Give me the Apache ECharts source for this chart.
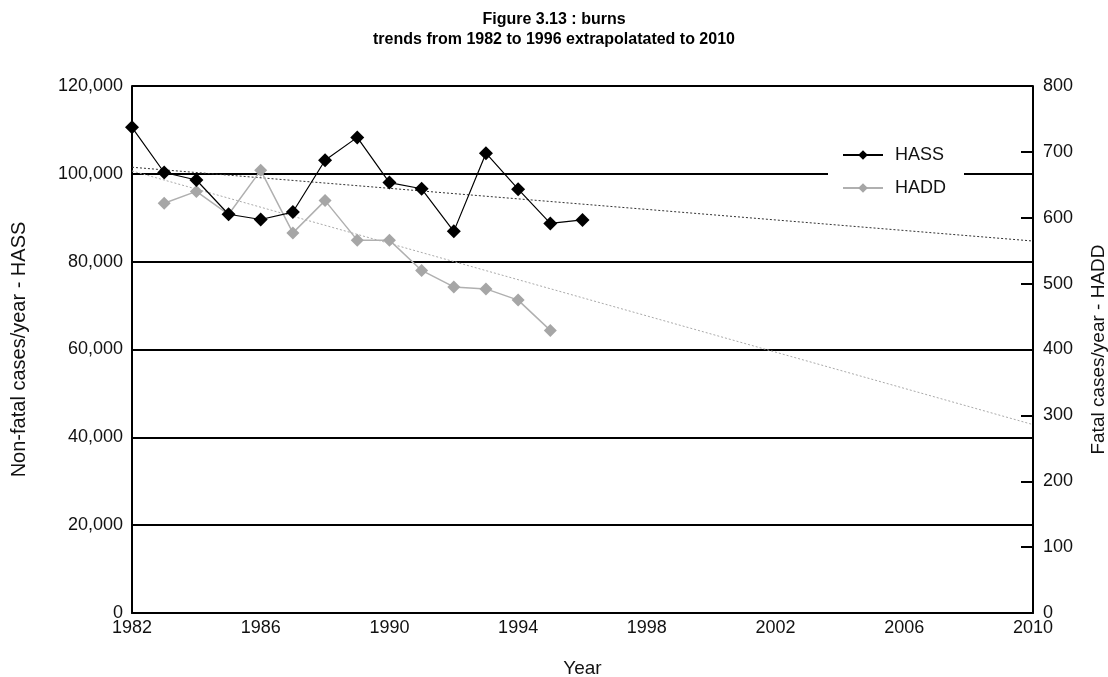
<!DOCTYPE html>
<html>
<head>
<meta charset="utf-8">
<script src="https://cdn.jsdelivr.net/npm/echarts@6/dist/echarts.min.js"></script>
<style>html,body{margin:0;padding:0;background:#fff}#c{width:1108px;height:677px}</style>
</head>
<body>
<div id="c"></div>
<script>
var years = [];
for (var y = 1982; y <= 2010; y++) years.push(String(y));
var hassYears = [1982,1983,1984,1985,1986,1987,1988,1989,1990,1991,1992,1993,1994,1995,1996];
var hassValues = [110600,100300,98600,90800,89600,91300,103100,108300,98000,96600,86900,104700,96500,88700,89500];
var haddYears = [1983,1984,1985,1986,1987,1988,1989,1990,1991,1992,1993,1994,1995];
var haddValues = [622,640,605,672,577,626,566,566,520,495,492,475,429];
var hassTrend = {start: 101500, end: 84700};
var haddTrend = {start: 671, end: 286};
var titleText = 'Figure 3.13 : burns\ntrends from 1982 to 1996 extrapolatated to 2010';

function toSeries(ys, vs) {
  var out = years.map(function(){ return null; });
  ys.forEach(function(yr, i){ out[years.indexOf(String(yr))] = vs[i]; });
  return out;
}
function trend(t) {
  var out = years.map(function(){ return null; });
  out[0] = t.start; out[out.length - 1] = t.end;
  return out;
}
var font = 'Liberation Sans, Arial, Helvetica, sans-serif';
var chart = echarts.init(document.getElementById('c'), null, {renderer: 'canvas'});
chart.setOption({
  animation: false,
  backgroundColor: '#fff',
  title: {
    text: titleText, left: 'center', top: 5,
    textStyle: {fontFamily: font, fontSize: 16, fontWeight: 'bold', color: '#000', lineHeight: 20}
  },
  grid: {left: 132, right: 75, top: 86, bottom: 64, containLabel: false, outerBoundsMode: 'none'},
  legend: {
    data: ['HASS', 'HADD'], orient: 'vertical', left: 828, top: 140,
    backgroundColor: '#fff', padding: [6, 18, 6, 14], itemGap: 15,
    itemWidth: 40, itemHeight: 12,
    textStyle: {fontFamily: font, fontSize: 18, color: '#111', padding: [0, 0, 0, 7]}
  },
  xAxis: {
    type: 'category', data: years, boundaryGap: false,
    name: 'Year', nameLocation: 'middle', nameGap: 46,
    nameTextStyle: {fontFamily: font, fontSize: 19, color: '#111'},
    axisLine: {lineStyle: {color: '#000', width: 2}},
    axisTick: {show: false},
    axisLabel: {interval: 3, fontFamily: font, fontSize: 18, color: '#111', margin: 6},
    splitLine: {show: false}
  },
  yAxis: [{
    type: 'value', min: 0, max: 120000, interval: 20000,
    name: 'Non-fatal cases/year - HASS', nameLocation: 'middle', nameGap: 103,
    nameTextStyle: {fontFamily: font, fontSize: 20, color: '#111'},
    axisLine: {show: true, lineStyle: {color: '#000', width: 2}},
    axisTick: {show: false},
    axisLabel: {fontFamily: font, fontSize: 18, color: '#111', margin: 9},
    splitLine: {show: true, lineStyle: {color: '#000', width: 2}}
  }, {
    type: 'value', min: 0, max: 800, interval: 100, position: 'right',
    name: 'Fatal cases/year - HADD', nameLocation: 'middle', nameGap: 56,
    nameTextStyle: {fontFamily: font, fontSize: 19, color: '#111'},
    axisLine: {show: true, lineStyle: {color: '#000', width: 2}},
    axisTick: {show: true, inside: true, length: 12, lineStyle: {color: '#000', width: 2}},
    axisLabel: {fontFamily: font, fontSize: 18, color: '#111', margin: 10},
    splitLine: {show: false}
  }],
  series: [{
    name: 'HASS trend', type: 'line', yAxisIndex: 0, data: trend(hassTrend),
    connectNulls: true, symbol: 'none', silent: true,
    lineStyle: {color: '#333', width: 1, type: [2, 2]}
  }, {
    name: 'HADD trend', type: 'line', yAxisIndex: 1, data: trend(haddTrend),
    connectNulls: true, symbol: 'none', silent: true,
    lineStyle: {color: '#aaa', width: 1, type: [2, 2]}
  }, {
    name: 'HADD', type: 'line', yAxisIndex: 1, data: toSeries(haddYears, haddValues),
    symbol: 'diamond', symbolSize: 13, color: '#a6a6a6',
    itemStyle: {color: '#a6a6a6'}, lineStyle: {color: '#b0b0b0', width: 1.5}
  }, {
    name: 'HASS', type: 'line', yAxisIndex: 0, data: toSeries(hassYears, hassValues),
    symbol: 'diamond', symbolSize: 14, color: '#000',
    itemStyle: {color: '#000'}, lineStyle: {color: '#000', width: 1.2}
  }]
});
</script>
</body>
</html>
